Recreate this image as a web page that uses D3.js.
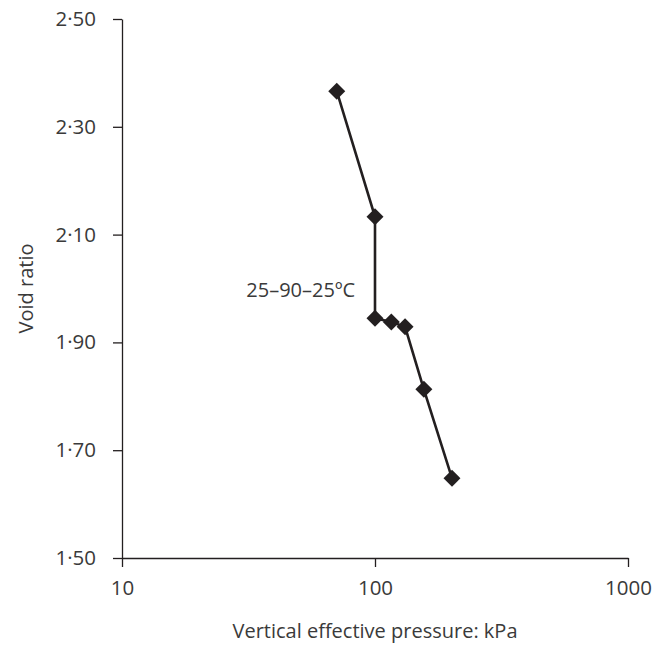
<!DOCTYPE html>
<html>
<head>
<meta charset="utf-8">
<script src="https://cdn.jsdelivr.net/npm/d3@7"></script>
<style>
  body { margin: 0; background: #fff; }
  svg { display: block; font-family: "Open Sans", sans-serif; }
  .axis path, .axis line { stroke: #231f20; stroke-width: 1.3; }
  .axis text { fill: #3a3a3a; font-size: 20.5px; font-family: "Open Sans", sans-serif; }
</style>
</head>
<body>
<svg width="653" height="645"></svg>
<script>
// data
const pressure = [70.6, 100, 100, 116, 131.5, 156, 201.5];
const voidRatio = [2.366, 2.133, 1.945, 1.938, 1.929, 1.813, 1.648];
const xTicks = [10, 100, 1000];
const yTicks = [1.5, 1.7, 1.9, 2.1, 2.3, 2.5];
const note = "25–90–25ºC";

const data = pressure.map((p, i) => ({ p: p, e: voidRatio[i] }));

const margin = { top: 19, right: 25, bottom: 87, left: 122 },
    width = 653 - margin.left - margin.right,
    height = 645 - margin.top - margin.bottom;

const svg = d3.select("svg")
  .append("g")
    .attr("transform", `translate(${margin.left},${margin.top})`);

const x = d3.scaleLog()
    .domain([10, 1000])
    .range([0, width]);

const y = d3.scaleLinear()
    .domain([1.5, 2.5])
    .range([height, 0]);

// axes
svg.append("g")
    .attr("class", "axis")
    .attr("transform", `translate(0,${height})`)
    .call(d3.axisBottom(x)
      .tickValues(xTicks)
      .tickFormat(d3.format("d"))
      .tickSize(9)
      .tickSizeOuter(0)
      .tickPadding(13));

svg.append("g")
    .attr("class", "axis")
    .call(d3.axisLeft(y)
      .tickValues(yTicks)
      .tickFormat(d => d3.format(".2f")(d).replace(".", "·"))
      .tickSize(9)
      .tickSizeOuter(0)
      .tickPadding(17));

// line
const line = d3.line()
    .x(d => x(d.p))
    .y(d => y(d.e));

svg.append("path")
    .datum(data)
    .attr("fill", "none")
    .attr("stroke", "#231f20")
    .attr("stroke-width", 2.6)
    .attr("d", line);

// diamond markers
svg.selectAll(".pt")
  .data(data)
  .enter().append("path")
    .attr("class", "pt")
    .attr("d", d3.symbol().type(d3.symbolSquare).size(144))
    .attr("transform", d => `translate(${x(d.p)},${y(d.e)}) rotate(45)`)
    .attr("fill", "#231f20");

// annotation
svg.append("text")
    .attr("x", x(100) - 20)
    .attr("y", y(1.945) - 21)
    .attr("text-anchor", "end")
    .attr("fill", "#3a3a3a")
    .style("font-size", "20px")
    .text(note);

// axis titles
svg.append("text")
    .attr("x", width / 2)
    .attr("y", height + 80)
    .attr("text-anchor", "middle")
    .attr("fill", "#3a3a3a")
    .style("font-size", "20px")
    .text("Vertical effective pressure: kPa");

svg.append("text")
    .attr("transform", `translate(${-margin.left + 33},${height / 2}) rotate(-90)`)
    .attr("text-anchor", "middle")
    .attr("fill", "#3a3a3a")
    .style("font-size", "20px")
    .text("Void ratio");
</script>
</body>
</html>
